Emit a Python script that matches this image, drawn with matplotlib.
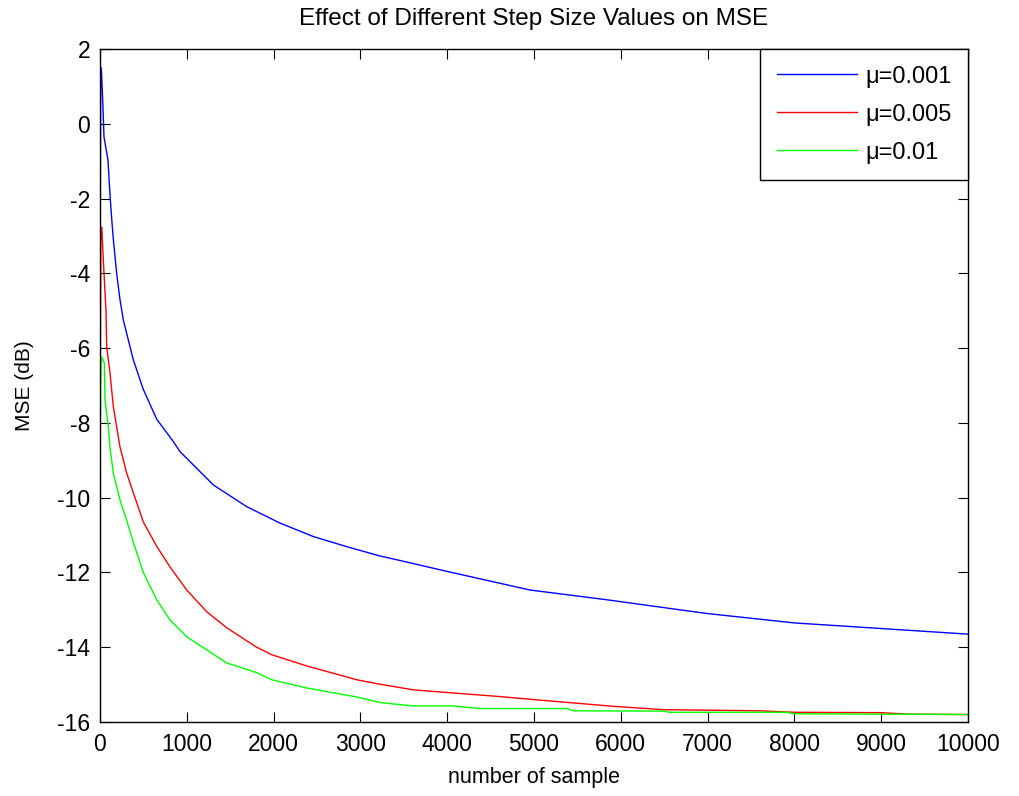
import numpy as np
import matplotlib
matplotlib.use('Agg')
import matplotlib.pyplot as plt

plt.rcParams['font.family'] = ['Liberation Sans', 'DejaVu Sans']
plt.rcParams['axes.unicode_minus'] = False

# values (sample index, MSE in dB)
x_blue = [0, 8, 15, 31, 46, 92, 115, 134, 154, 192, 230, 269, 382, 498, 653, 845,
          922, 1000, 1306, 1690, 2074, 2458, 2842, 3226, 3456, 3994, 4954, 5837,
          6682, 7000, 8000, 9000, 10000]
mse_blue = [-5.5, 1.5, 1.5, 0.64, -0.35, -0.97, -1.9, -2.52, -3.1, -4.0, -4.7, -5.25,
            -6.3, -7.1, -7.9, -8.5, -8.77, -8.95, -9.66, -10.24, -10.68, -11.04,
            -11.31, -11.56, -11.68, -11.97, -12.47, -12.73, -13.0, -13.1, -13.35,
            -13.5, -13.65]

x_red = [0, 10, 20, 38, 69, 77, 115, 154, 230, 307, 384, 499, 653, 806, 999, 1229,
         1460, 1805, 1978, 2381, 2957, 3226, 3610, 3994, 4608, 5146, 5914, 6490,
         7600, 8000, 9000, 9300, 10000]
mse_red = [-8.5, -2.8, -2.76, -3.64, -5.0, -5.97, -6.66, -7.57, -8.64, -9.34, -9.87,
           -10.65, -11.3, -11.85, -12.47, -13.05, -13.48, -14.0, -14.2, -14.5, -14.87,
           -14.99, -15.14, -15.21, -15.32, -15.43, -15.58, -15.67, -15.7, -15.74,
           -15.75, -15.79, -15.8]

x_green = [0, 10, 20, 50, 58, 96, 115, 154, 230, 307, 384, 499, 653, 806, 999, 1229,
           1460, 1805, 1978, 2381, 2957, 3226, 3610, 4070, 4378, 5376, 5450, 6490,
           6567, 7904, 8000, 10000]
mse_green = [-9.2, -6.5, -6.24, -6.4, -7.4, -8.1, -8.67, -9.34, -10.06, -10.6, -11.2,
             -12.0, -12.73, -13.27, -13.72, -14.07, -14.42, -14.68, -14.87, -15.09,
             -15.33, -15.48, -15.57, -15.57, -15.64, -15.64, -15.7, -15.71, -15.74,
             -15.74, -15.78, -15.8]

labels = ['\u03bc=0.001', '\u03bc=0.005', '\u03bc=0.01']

fig = plt.figure(figsize=(10.19, 7.96), dpi=100)
ax = fig.add_axes([100 / 1019, 1 - 722 / 796, 868 / 1019, 673 / 796])

ax.plot(x_blue, mse_blue, color='#0000ff', lw=1.0, label=labels[0])
ax.plot(x_red, mse_red, color='#ff0000', lw=1.0, label=labels[1])
ax.plot(x_green, mse_green, color='#00ff00', lw=1.0, label=labels[2])

ax.set_xlim(0, 10000)
ax.set_ylim(-16, 2)
ax.set_xticks(np.arange(0, 10001, 1000))
ax.set_yticks(np.arange(-16, 3, 2))
ax.tick_params(direction='in', length=7, top=True, right=True, labelsize=16.5)
ax.tick_params(axis='x', pad=8)
ax.tick_params(axis='y', pad=7)
for s in ax.spines.values():
    s.set_linewidth(1.0)

ax.set_title('Effect of Different Step Size Values on MSE', fontsize=17.5, pad=17)
ax.set_xlabel('number of sample', fontsize=15.5, labelpad=8)
ax.set_ylabel('MSE (dB)', fontsize=15, labelpad=17)

leg = ax.legend(loc='upper right', borderaxespad=0, fancybox=False, fontsize=17,
                edgecolor='black', framealpha=1, handlelength=3.4, handletextpad=0.35,
                borderpad=0.7, labelspacing=0.68)
leg.get_frame().set_linewidth(1.0)

fig.savefig('out.png', dpi=100)
